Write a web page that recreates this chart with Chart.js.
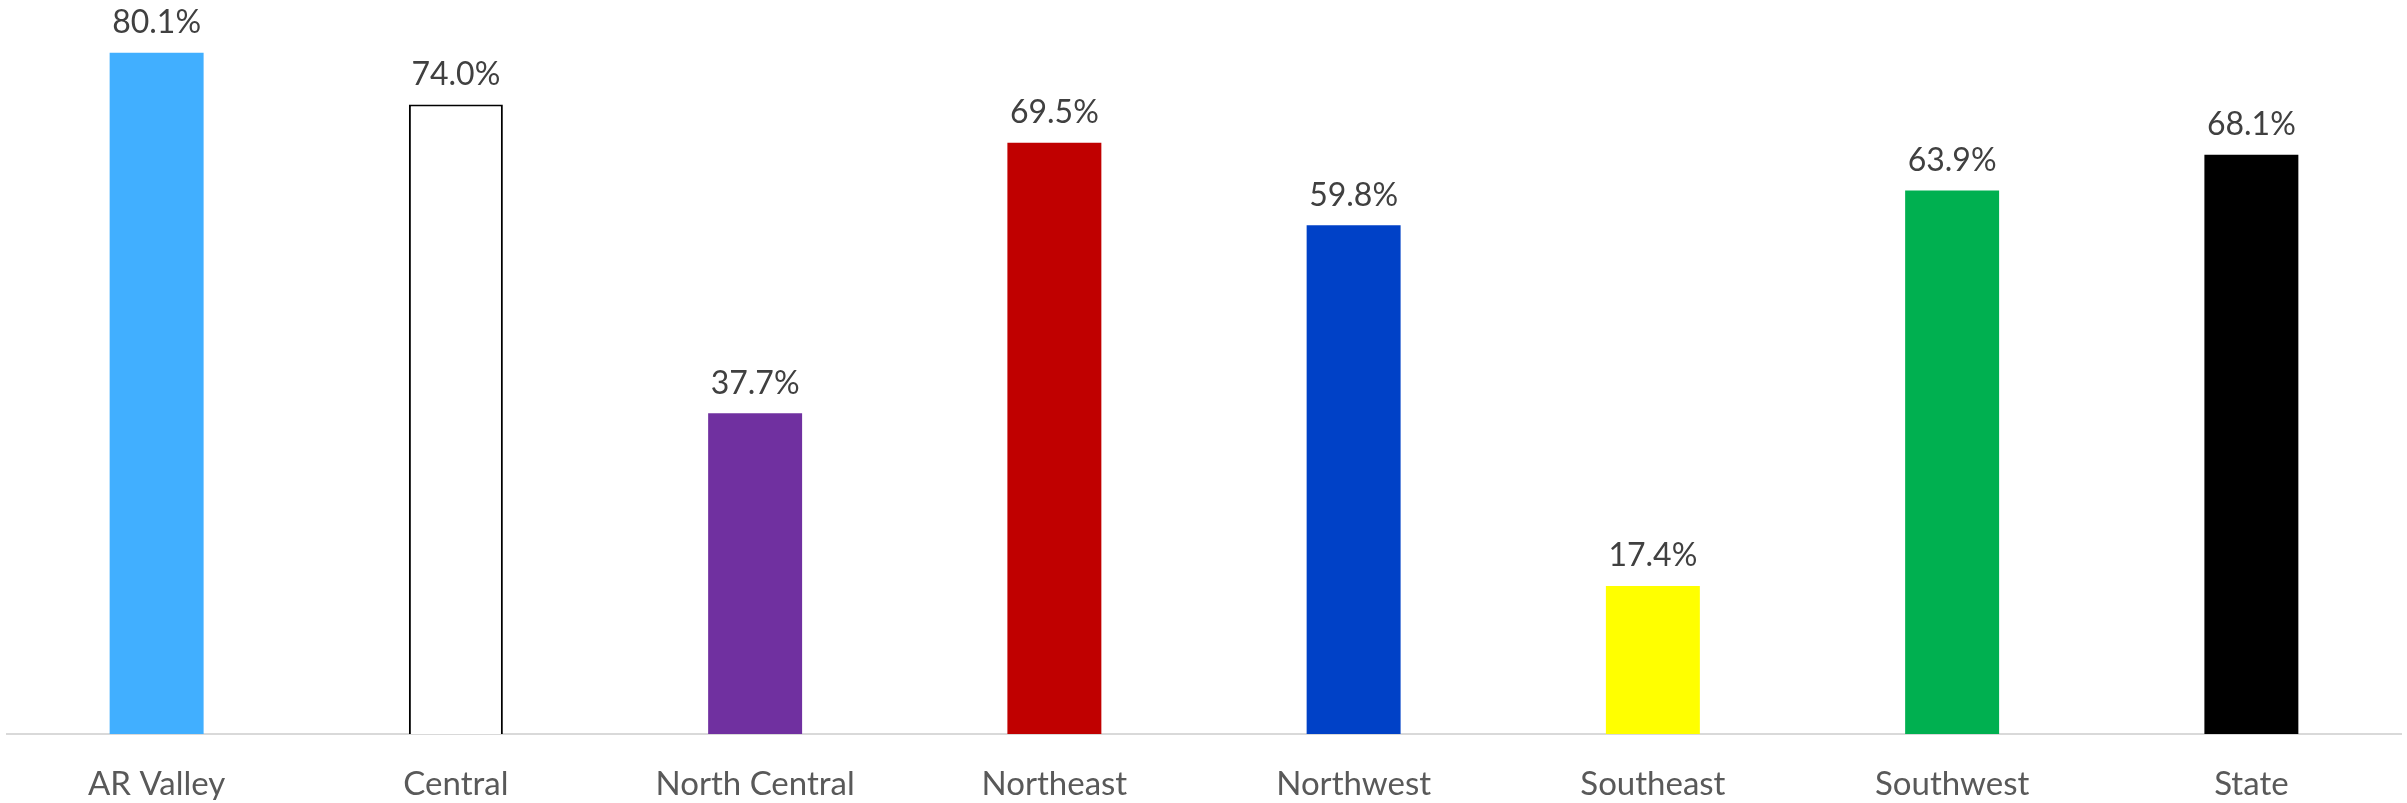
<!DOCTYPE html>
<html>
<head>
<meta charset="utf-8">
<script src="https://cdn.jsdelivr.net/npm/chart.js@4.4.1/dist/chart.umd.min.js"></script>
<style>
  html, body { margin: 0; padding: 0; background: #fff; }
  .wrap { width: 2407px; height: 803px; }
</style>
</head>
<body>
<div class="wrap"><canvas id="chart"></canvas></div>
<script>
const regions = ['AR Valley', 'Central', 'North Central', 'Northeast', 'Northwest', 'Southeast', 'Southwest', 'State'];
const percentValues = [80.1, 74.0, 37.7, 69.5, 59.8, 17.4, 63.9, 68.1];
const barColors = ['#41AFFF', '#FFFFFF', '#7030A0', '#C00000', '#0041C7', '#FFFF00', '#00B050', '#000000'];
const barBorders = ['#41AFFF', '#000000', '#7030A0', '#C00000', '#0041C7', '#FFFF00', '#00B050', '#000000'];
const borderWidths = [0, 2, 0, 0, 0, 0, 0, 0];

const FONT = 'Lato, "Open Sans", sans-serif';

// draws the percent label over each bar
const valueLabels = {
  id: 'valueLabels',
  afterDatasetsDraw(chart) {
    const ctx = chart.ctx;
    const meta = chart.getDatasetMeta(0);
    ctx.save();
    ctx.font = '32px ' + FONT;
    ctx.fillStyle = '#404040';
    ctx.textAlign = 'center';
    ctx.textBaseline = 'bottom';
    meta.data.forEach((bar, i) => {
      ctx.fillText(percentValues[i].toFixed(1) + '%', bar.x, bar.y - 14);
    });
    ctx.restore();
  }
};

const ctx = document.getElementById('chart').getContext('2d');
new Chart(ctx, {
  type: 'bar',
  data: {
    labels: regions,
    datasets: [{
      data: percentValues,
      backgroundColor: barColors,
      borderColor: barBorders,
      borderWidth: borderWidths,
      borderSkipped: 'bottom',
      barPercentage: 0.314,
      categoryPercentage: 1
    }]
  },
  options: {
    responsive: true,
    maintainAspectRatio: false,
    devicePixelRatio: 1,
    animation: false,
    layout: {
      padding: { top: 11, left: 7, right: 6, bottom: 3 }
    },
    plugins: {
      legend: { display: false },
      tooltip: { enabled: false }
    },
    scales: {
      x: {
        grid: { display: false, drawTicks: false },
        border: { display: true, color: '#D9D9D9', width: 2 },
        ticks: {
          color: '#595959',
          padding: 31,
          maxRotation: 0,
          font: { family: FONT, size: 33 }
        },
        afterFit(scale) {
          scale.height = 66;
        }
      },
      y: {
        display: false,
        min: 0,
        max: 85
      }
    }
  },
  plugins: [valueLabels]
});
</script>
</body>
</html>
